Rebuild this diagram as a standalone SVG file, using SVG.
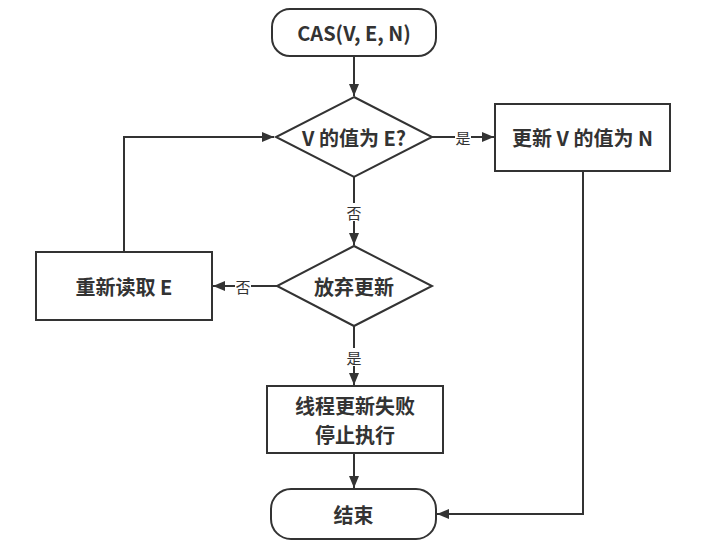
<svg xmlns="http://www.w3.org/2000/svg" width="723" height="547" viewBox="0 0 723 547">
<defs>
<style>
.s{fill:#fff;stroke:#333;stroke-width:2}
.t{font-family:"Noto Sans CJK SC","Noto Sans",sans-serif;font-weight:bold;font-size:20px;fill:#333;text-anchor:middle;dominant-baseline:central}
.l{font-family:"Noto Sans CJK SC","Noto Sans",sans-serif;font-size:15px;fill:#333;text-anchor:middle;dominant-baseline:central}
.c{fill:none;stroke:#333;stroke-width:2}
.lb{fill:#fff}
</style>
<marker id="a" viewBox="0 0 12 10" refX="12" refY="5" markerWidth="12" markerHeight="10" markerUnits="userSpaceOnUse" orient="auto">
<path d="M0,0 L12,5 L0,10 Z" fill="#333"/>
</marker>
</defs>
<rect width="723" height="547" fill="#fff"/>
<g id="connectors">
<path class="c" d="M354,56 V96" marker-end="url(#a)"/>
<path class="c" d="M432,137 H494" marker-end="url(#a)"/>
<path class="c" d="M354,177 V245" marker-end="url(#a)"/>
<path class="c" d="M277,286 H213" marker-end="url(#a)"/>
<path class="c" d="M124,252 V137 H274" marker-end="url(#a)"/>
<path class="c" d="M354,326 V385" marker-end="url(#a)"/>
<path class="c" d="M354,453 V488" marker-end="url(#a)"/>
<path class="c" d="M583,171 V514 H437" marker-end="url(#a)"/>
<rect class="lb" x="455" y="128" width="16" height="18"/>
<text class="l" x="463" y="137">是</text>
<rect class="lb" x="346" y="203" width="16" height="18"/>
<text class="l" x="354" y="212">否</text>
<rect class="lb" x="235" y="277" width="16" height="18"/>
<text class="l" x="243" y="286">否</text>
<rect class="lb" x="346" y="348" width="16" height="18"/>
<text class="l" x="354" y="357">是</text>
</g>
<g id="start">
<rect class="s" x="272" y="9" width="164" height="47" rx="18"/>
<text class="t" x="354" y="32.5">CAS(V, E, N)</text>
</g>
<g id="check">
<path class="s" d="M354,97 L432,137 L354,177 L276,137 Z"/>
<text class="t" x="354" y="137">V 的值为 E?</text>
</g>
<g id="update">
<rect class="s" x="495" y="104" width="175" height="67"/>
<text class="t" x="582.5" y="137.5">更新 V 的值为 N</text>
</g>
<g id="giveup">
<path class="s" d="M354,246 L432,286 L354,326 L277,286 Z"/>
<text class="t" x="354" y="286">放弃更新</text>
</g>
<g id="reread">
<rect class="s" x="36" y="252" width="176" height="68"/>
<text class="t" x="124" y="286">重新读取 E</text>
</g>
<g id="fail">
<rect class="s" x="267" y="386" width="176" height="67"/>
<text class="t" x="355" y="405">线程更新失败</text>
<text class="t" x="355" y="434">停止执行</text>
</g>
<g id="end">
<rect class="s" x="271" y="489" width="165" height="50" rx="20"/>
<text class="t" x="353.5" y="514">结束</text>
</g>
</svg>
